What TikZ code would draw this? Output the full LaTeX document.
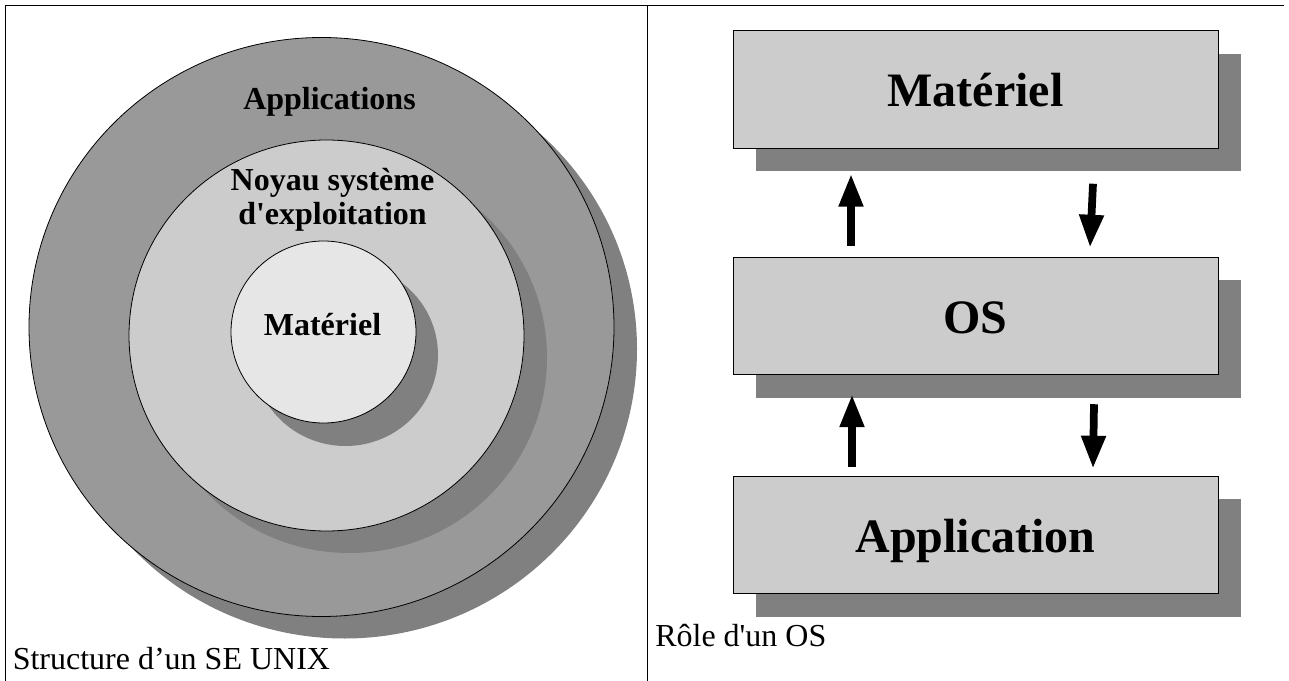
\documentclass[tikz,border=0pt]{standalone}
\usepackage{fontspec}
\setmainfont{Liberation Serif}
\usepackage{tikz}
\usetikzlibrary{calc}
\usetikzlibrary{arrows.meta}
\usetikzlibrary{shadows}
\definecolor{ombre}{RGB}{128, 128, 128}
\definecolor{anneau}{RGB}{153, 153, 153}
\definecolor{noyau}{RGB}{204, 204, 204}
\definecolor{coeur}{RGB}{230, 230, 230}

\begin{document}
\begin{tikzpicture}[x=0.75pt, y=-0.75pt,
        titre/.style={font=\fontsize{24}{28}\selectfont\bfseries, anchor=base, inner sep=0pt},
        legende/.style={font=\fontsize{24}{28}\selectfont, anchor=base west, inner sep=0pt},
        boite/.style={draw=black, line width=0.75pt, fill=noyau, minimum width=363.75pt, minimum height=88.1pt,
            inner sep=0pt, text height=25.5pt, text depth=0pt, font=\fontsize{36}{40}\selectfont\bfseries,
            drop shadow={shadow xshift=17.25pt, shadow yshift=-17.25pt, fill=ombre, opacity=1}},
        fleche/.style={line width=5.8pt, -{Triangle[width=17.25pt, length=24.75pt]}}]
            \useasboundingbox (0, 0) rectangle (1289, 681);
            % Frame
            \draw[line width=0.75pt]                       (5.5, 681) -- (5.5, 6) -- (1284, 6);
            \draw[line width=0.75pt]                       (647, 6) -- (647, 681);
            % Applications
            \fill[ombre]                                   (344.5, 349.0) ellipse [x radius=292.5, y radius=289.5];
            \filldraw[fill=anneau, draw=black, line width=0.6pt] (321.5, 327.0) ellipse [x radius=292.5, y radius=289.5];
            % Noyau
            \fill[ombre]                                   (349.5, 357.5) ellipse [x radius=197.5, y radius=195.5];
            \filldraw[fill=noyau, draw=black, line width=0.6pt]  (326.5, 335.5) ellipse [x radius=197.5, y radius=195.5];
            % Materiel
            \fill[ombre]                                   (345.5, 355.0) ellipse [x radius=92.5, y radius=91.0];
            \filldraw[fill=coeur, draw=black, line width=0.6pt]  (323.5, 332.0) ellipse [x radius=92.5, y radius=91.0];
            \node[titre] (applis)  at (329.5, 110) {Applications};
            \node[titre] (noyau)   at (332.5, 191) {Noyau système};
            \node[titre] (exploit) at (332.5, 224) {d\textquotesingle exploitation};
            \node[titre] (mat)     at (322.5, 335) {Matériel};
            \node[legende] (unix)  at (12.5, 669) {Structure d’un SE UNIX};
            % Boxes
            \node[boite] (materiel) at (975.5,  89.5) {Matériel};
            \node[boite] (os)       at (975.5, 316.0) {OS};
            \node[boite] (appli)    at (975.5, 535.0) {Application};
            % Arrows
            \draw[fleche] ($(os.north)+(-124.5,-11)$)       -- ($(materiel.south)+(-124.5,25)$);
            \draw[fleche] ($(materiel.south)+(117.5,35)$)   -- ($(os.north)+(114.5,-9)$);
            \draw[fleche] ($(appli.north)+(-123.5,-9)$)     -- ($(os.south)+(-123.5,19)$);
            \draw[fleche] ($(os.south)+(118.5,29)$)         -- ($(appli.north)+(117.5,-7)$);
            \node[legende] (role)  at (655, 646) {Rôle d\textquotesingle un OS};
        \end{tikzpicture}
\end{document}
